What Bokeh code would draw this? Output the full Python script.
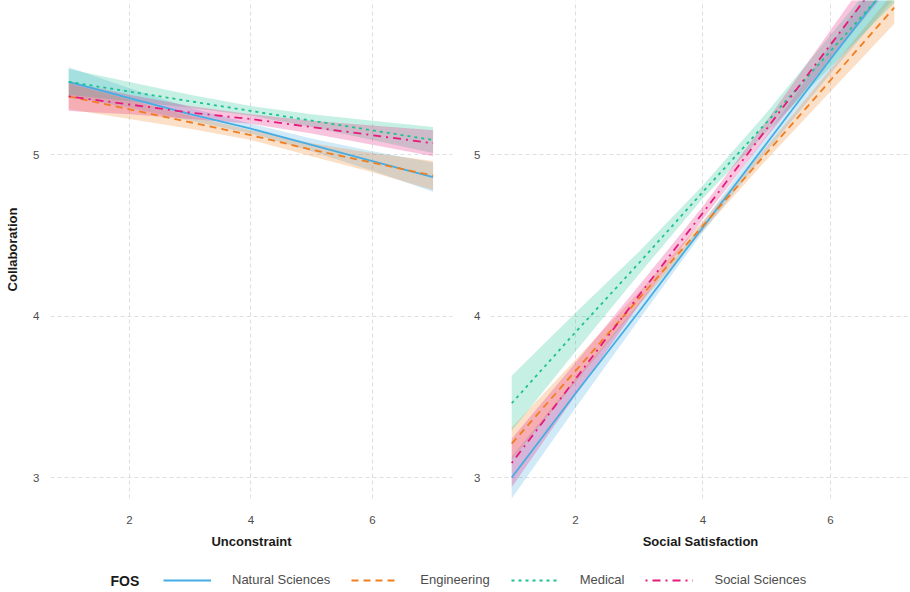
from bokeh.plotting import figure
from bokeh.layouts import column, row
from bokeh.models import Legend, LegendItem, Label, FixedTicker, Range1d
from bokeh.embed import file_html
from bokeh.resources import INLINE

# ---------------- data ----------------
x_vals = [1, 2, 3, 4, 5, 6, 7]
groups = ["Natural Sciences", "Engineering", "Medical", "Social Sciences"]
colors = ["#45ADE3", "#F07E1E", "#1CC28F", "#E6197C"]
dashes = ["solid", "7 5", "3 4", "2 5 8 5"]

# Panel 1: Unconstraint -> Collaboration (fitted values and CI half-widths)
unc_natural = [5.45, 5.35, 5.25, 5.16, 5.06, 4.96, 4.86]
unc_engineering = [5.36, 5.28, 5.20, 5.12, 5.03, 4.95, 4.87]
unc_medical = [5.45, 5.39, 5.33, 5.27, 5.21, 5.15, 5.09]
unc_social = [5.36, 5.31, 5.26, 5.22, 5.17, 5.12, 5.07]
unc_natural_hw = [0.09, 0.06, 0.04, 0.03, 0.04, 0.06, 0.09]
unc_engineering_hw = [0.08, 0.06, 0.04, 0.03, 0.04, 0.06, 0.09]
unc_medical_hw = [0.08, 0.06, 0.04, 0.03, 0.04, 0.06, 0.08]
unc_social_hw = [0.09, 0.06, 0.04, 0.03, 0.04, 0.06, 0.08]

# Panel 2: Social Satisfaction -> Collaboration
sat_natural = [3.00, 3.52, 4.03, 4.55, 5.07, 5.59, 6.10]
sat_engineering = [3.21, 3.66, 4.11, 4.56, 5.01, 5.46, 5.91]
sat_medical = [3.46, 3.90, 4.33, 4.77, 5.20, 5.64, 6.08]
sat_social = [3.09, 3.61, 4.13, 4.64, 5.16, 5.68, 6.20]
sat_natural_hw = [0.13, 0.09, 0.05, 0.03, 0.05, 0.09, 0.13]
sat_engineering_hw = [0.10, 0.07, 0.04, 0.03, 0.04, 0.07, 0.10]
sat_medical_hw = [0.17, 0.12, 0.07, 0.04, 0.06, 0.10, 0.14]
sat_social_hw = [0.15, 0.10, 0.06, 0.04, 0.05, 0.09, 0.13]

x_ticks = [2, 4, 6]
y_ticks = [3, 4, 5]

FONT = "Liberation Sans"
NAN = float("nan")


def panel(x_range, frame_w, fits, hws, xlabel, ylabel, left_border, right_border):
    p = figure(frame_width=frame_w, frame_height=498,
               x_range=Range1d(*x_range), y_range=Range1d(2.870, 5.954),
               output_backend="svg", toolbar_location=None,
               min_border_left=left_border, min_border_right=right_border,
               min_border_top=0, min_border_bottom=58)
    p.outline_line_color = None
    p.background_fill_color = "white"
    p.border_fill_color = "white"
    for ax in (p.xaxis[0], p.yaxis[0]):
        ax.axis_line_color = None
        ax.major_tick_line_color = None
        ax.minor_tick_line_color = None
        ax.major_tick_out = 0
        ax.major_tick_in = 0
        ax.minor_tick_out = 0
        ax.minor_tick_in = 0
        ax.major_label_text_font = FONT
        ax.major_label_text_font_size = "11.5px"
        ax.major_label_text_color = "#4D4D4D"
        ax.axis_label_text_font = FONT
        ax.axis_label_text_font_size = "13px"
        ax.axis_label_text_font_style = "bold"
        ax.axis_label_text_color = "#1A1A1A"
    p.xaxis.ticker = FixedTicker(ticks=x_ticks)
    p.yaxis.ticker = FixedTicker(ticks=y_ticks)
    p.xaxis.major_label_standoff = 17
    p.xaxis.axis_label_standoff = 7
    p.yaxis.major_label_standoff = 11 if ylabel else 10
    p.yaxis.axis_label_standoff = 10
    p.xaxis.axis_label = xlabel
    if ylabel:
        p.yaxis.axis_label = ylabel
    for g in (p.xgrid[0], p.ygrid[0]):
        g.grid_line_color = "#DEDEDE"
        g.grid_line_dash = "4 3"
        g.grid_line_width = 1
    for fit, hw, col in zip(fits, hws, colors):
        lower = [f - h for f, h in zip(fit, hw)]
        upper = [f + h for f, h in zip(fit, hw)]
        p.varea(x=x_vals, y1=lower, y2=upper, fill_color=col, fill_alpha=0.25)
    for fit, col, dash in zip(fits, colors, dashes):
        p.line(x=x_vals, y=fit, line_color=col, line_width=1.8, line_dash=dash)
    return p


p1 = panel((0.70, 7.32), 402,
           [unc_natural, unc_engineering, unc_medical, unc_social],
           [unc_natural_hw, unc_engineering_hw, unc_medical_hw, unc_social_hw],
           "Unconstraint", "Collaboration", 50, 8)
p2 = panel((0.667, 7.255), 420,
           [sat_natural, sat_engineering, sat_medical, sat_social],
           [sat_natural_hw, sat_engineering_hw, sat_medical_hw, sat_social_hw],
           "Social Satisfaction", None, 30, 0)

# ---------------- legend strip ----------------
pl = figure(width=910, height=36, output_backend="svg", toolbar_location=None,
            x_axis_location=None, y_axis_location=None,
            x_range=Range1d(0, 1), y_range=Range1d(0, 1),
            min_border_left=0, min_border_right=0, min_border_top=0, min_border_bottom=0)
pl.outline_line_color = None
pl.xgrid.visible = False
pl.ygrid.visible = False
items = []
for name, col, dash in zip(groups, colors, dashes):
    r = pl.line(x=[NAN, NAN], y=[NAN, NAN], line_color=col, line_width=1.8, line_dash=dash)
    items.append(LegendItem(label=name, renderers=[r]))
leg = Legend(items=items, orientation="horizontal", location=(163, 5),
             glyph_width=48, glyph_height=14, label_height=14,
             label_standoff=21, spacing=21, padding=0, margin=0,
             border_line_color=None, background_fill_alpha=0,
             label_text_font=FONT, label_text_font_size="13px",
             label_text_color="#4D4D4D")
pl.add_layout(leg)
pl.add_layout(Label(x=110, y=12, x_units="screen", y_units="screen", text="FOS",
                    text_font=FONT, text_font_size="14px", text_font_style="bold",
                    text_color="#1A1A1A", text_baseline="middle"))

layout = column(row(p1, p2), pl)
open("out.html", "w").write(file_html(layout, INLINE))
